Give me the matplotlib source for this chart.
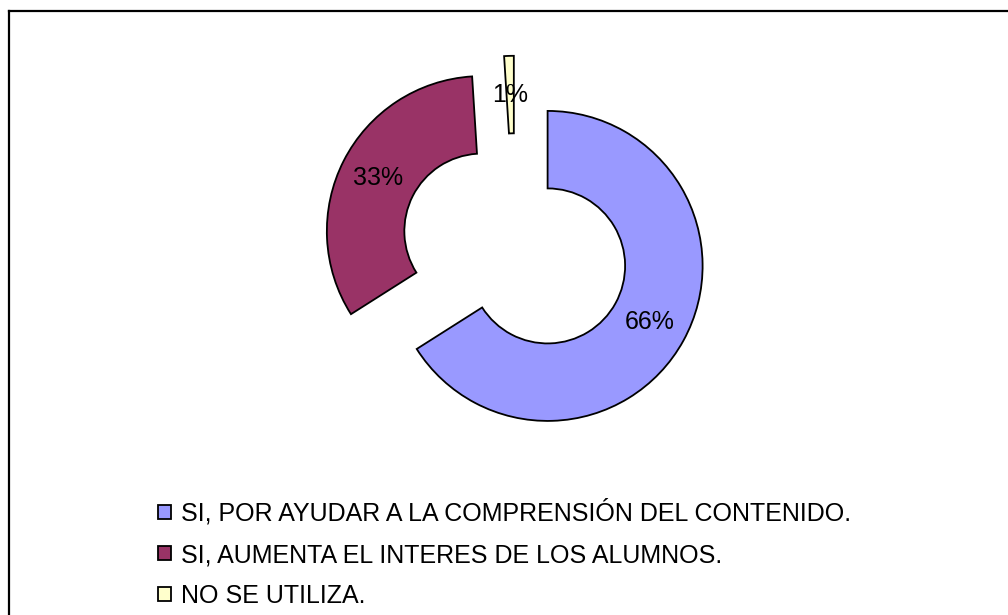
import matplotlib.pyplot as plt
from matplotlib.lines import Line2D

plt.rcParams['font.family'] = ['Liberation Sans', 'DejaVu Sans']

# Datos del grafico
categorias = ['SI, POR AYUDAR A LA COMPRENSIÓN DEL CONTENIDO.',
              'SI, AUMENTA EL INTERES DE LOS ALUMNOS.',
              'NO SE UTILIZA.']
valores = [66, 33, 1]
colores = ['#9999FF', '#993366', '#FFFFCC']
separacion = [0.24, 0.24, 0.24]

W, H = 1008, 615
fig = plt.figure(figsize=(W / 100, H / 100), dpi=100)

# marco del grafico (solo se ven los bordes izquierdo y superior)
fig.add_artist(Line2D([9 / W, 9 / W], [0, 1 - 11 / H], color='black', lw=1.6))
fig.add_artist(Line2D([9 / W, 1], [1 - 11 / H, 1 - 11 / H], color='black', lw=1.6))

# ejes colocados para que el centro quede en (515, 248) px y R = 155 px
R = 155
cx, cy = 515, 248
lim = 1.6
lado = 2 * lim * R
ax = fig.add_axes([(cx - lado / 2) / W, (H - cy - lado / 2) / H, lado / W, lado / H])

wedges, textos, autotextos = ax.pie(
    valores, colors=colores, explode=separacion, startangle=90, counterclock=False,
    autopct='%1.0f%%', pctdistance=0.75, radius=1,
    wedgeprops=dict(width=0.5, edgecolor='black', linewidth=1.3),
    textprops=dict(fontsize=18, color='black'))
ax.set_xlim(-lim, lim)
ax.set_ylim(-lim, lim)
ax.set_aspect('equal')
ax.axis('off')

leg = fig.legend(wedges, categorias, loc='upper left',
                 bbox_to_anchor=(145 / W, 1 - 487 / H), frameon=False,
                 fontsize=18, handlelength=0.52, handleheight=0.52,
                 handletextpad=0.43, labelspacing=0.68, borderpad=0)
for h in leg.legend_handles:
    h.set_linewidth(1.3)

fig.savefig('out.png', dpi=100, facecolor='white')
